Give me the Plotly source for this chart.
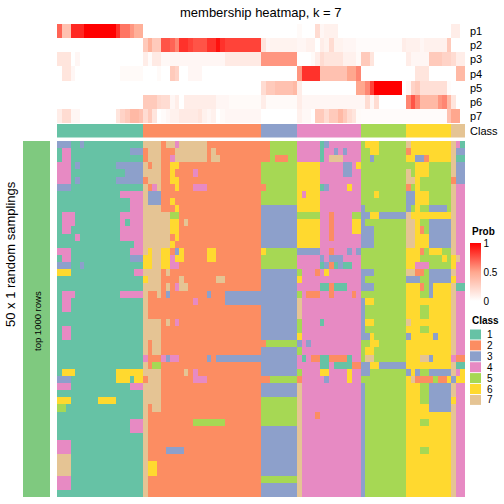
import plotly.graph_objects as go

W = H = 504

# ---------------- data ----------------
class_names = ["1", "2", "3", "4", "5", "6", "7"]
class_colors = ["#66C2A5", "#FC8D62", "#8DA0CB", "#E78AC3", "#A6D854", "#FFD92F", "#E5C494"]
prob_rows = ["p1", "p2", "p3", "p4", "p5", "p6", "p7"]

column_class = ("1111111111" "111111111" "22222222222222222222222222" "33333333"
                "44444444444444" "5555555555" "6666666666" "777")

p1 = [0.7, 0.35, 0.35, 0.88, 0.88, 0.88, 1, 1, 1, 1, 1, 1, 1, 0.85, 0.65, 0.65, 0.55, 0.45, 0.45,
      0, 0, 0, 0, 0, 0, 0, 0, 0, 0, 0, 0, 0, 0, 0, 0, 0, 0, 0, 0, 0, 0, 0, 0, 0, 0,
      0, 0, 0, 0, 0, 0, 0, 0, 0.03, 0, 0, 0, 0.2, 0.05, 0.08, 0.08, 0.08, 0, 0, 0, 0,
      0, 0, 0, 0, 0, 0, 0, 0, 0, 0, 0, 0, 0, 0, 0, 0, 0, 0, 0, 0, 0, 0.1, 0.1]
p2 = [0, 0, 0, 0, 0, 0, 0, 0, 0, 0, 0, 0, 0, 0, 0, 0, 0, 0, 0,
      0.3, 0.45, 0.3, 0.3, 0.75, 0.75, 0.7, 0.6, 0.85, 0.85, 0.8, 0.75, 0.75, 0.75, 0.85, 0.85, 0.95, 0.85,
      0.8, 0.8, 0.8, 0.8, 0.8, 0.8, 0.8, 0.8,
      0.15, 0.05, 0.07, 0.07, 0.07, 0.07, 0.07, 0.07, 0.05, 0.05, 0.08, 0.08, 0, 0.1, 0.07, 0.2, 0.07, 0.07,
      0.05, 0.05, 0.05, 0.02, 0.02, 0.02, 0.02, 0.02, 0.02, 0.02, 0.02, 0.02, 0.02, 0.1, 0.08, 0.08, 0.08,
      0.05, 0.08, 0.08, 0.08, 0.08, 0.08, 0.3, 0, 0]
p3 = [0.15, 0.15, 0.15, 0, 0.05, 0, 0, 0, 0, 0, 0, 0, 0, 0, 0, 0, 0, 0, 0,
      0.1, 0.02, 0.12, 0.12, 0.04, 0.04, 0.05, 0.05, 0.05, 0.05, 0.05, 0.05, 0.05, 0.05, 0.05, 0.05, 0.05, 0.05,
      0.12, 0.12, 0.12, 0.12, 0.12, 0.12, 0.12, 0.12,
      0.55, 0.55, 0.55, 0.55, 0.55, 0.55, 0.55, 0.55, 0, 0, 0, 0.03, 0.1, 0.2, 0.15, 0.15, 0.15, 0.15,
      0.08, 0.08, 0.08, 0.03, 0.3, 0.3, 0.15, 0, 0, 0, 0, 0, 0, 0, 0.1, 0.05, 0.05, 0.05,
      0.05, 0.3, 0.3, 0.3, 0.25, 0.25, 0.2, 0.1, 0.1]
p4 = [0, 0.15, 0.15, 0.05, 0, 0, 0, 0, 0, 0, 0, 0, 0, 0, 0.03, 0.03, 0.03, 0.03, 0.03,
      0, 0, 0, 0.03, 0, 0, 0.3, 0.25, 0, 0, 0.05, 0.05, 0.05, 0, 0, 0, 0, 0,
      0, 0, 0, 0, 0, 0, 0, 0,
      0, 0, 0, 0, 0, 0, 0, 0, 0.55, 0.85, 0.85, 0.85, 0.85, 0.35, 0.35, 0.35, 0.35, 0.35,
      0.35, 0.5, 0.5, 0.6, 0, 0, 0, 0, 0, 0, 0, 0, 0, 0, 0, 0, 0.15, 0.15,
      0.15, 0, 0, 0, 0, 0, 0, 0.4, 0.4]
p5 = [0, 0, 0, 0, 0, 0, 0, 0, 0, 0, 0, 0, 0, 0, 0, 0, 0, 0, 0,
      0, 0, 0, 0, 0, 0, 0, 0, 0, 0, 0, 0, 0, 0, 0, 0, 0, 0,
      0, 0, 0, 0, 0, 0, 0, 0,
      0.2, 0.3, 0.3, 0.35, 0.35, 0.35, 0.35, 0.4, 0.1, 0, 0, 0, 0, 0, 0, 0, 0,
      0, 0, 0, 0, 0.5, 0.5, 0.6, 0.8, 1, 1, 1, 1, 1, 1, 0, 0.05, 0.25,
      0.3, 0.18, 0.18, 0.18, 0.18, 0.18, 0.18, 0.02, 0, 0]
p6 = [0, 0, 0, 0, 0, 0, 0, 0, 0, 0, 0, 0, 0, 0, 0, 0, 0, 0, 0,
      0.3, 0.3, 0.3, 0.22, 0.2, 0.2, 0.05, 0.1, 0, 0.1, 0.1, 0.1, 0.1, 0.1, 0.1, 0.1, 0.05, 0.05,
      0.05, 0.03, 0.03, 0.03, 0.03, 0.03, 0.03, 0.03,
      0.1, 0.03, 0.03, 0.03, 0.03, 0.03, 0.03, 0.03, 0.1, 0.05, 0.05, 0.05, 0.05, 0.05, 0.05, 0.05, 0.05, 0.05,
      0.05, 0.05, 0.05, 0.05, 0.05, 0.2, 0.05, 0.2, 0, 0, 0, 0, 0, 0, 0.6, 0.75, 0.6,
      0.4, 0.4, 0.4, 0.4, 0.55, 0.6, 0.4, 0.15, 0, 0]
p7 = [0.1, 0.2, 0.2, 0.05, 0.05, 0, 0, 0, 0, 0, 0, 0, 0, 0.15, 0.25, 0.3, 0.4, 0.4, 0.35,
      0.2, 0.3, 0.15, 0, 0.02, 0.05, 0.08, 0.08, 0.12, 0.12, 0.12, 0.12, 0.15, 0.08, 0.05, 0.08, 0, 0.03,
      0.05, 0.05, 0.05, 0.05, 0.05, 0.05, 0.05, 0.05,
      0, 0, 0, 0, 0, 0, 0, 0, 0.08, 0.04, 0.04, 0, 0.3, 0.3, 0.2, 0.3, 0.3, 0.4,
      0.3, 0.2, 0.15, 0.03, 0.02, 0.02, 0.02, 0.02, 0.02, 0.02, 0.02, 0.02, 0.02, 0.02, 0.02, 0.02, 0.02,
      0.02, 0.02, 0.02, 0.02, 0.02, 0.02, 0.35, 0.5, 0.5]
prob_matrix = [p1, p2, p3, p4, p5, p6, p7]

# 50 random samplings x 90 columns: class assigned in each sampling
sampling_rows = [
    "3331131111" "1111111117" "7772774777" "7772222222" "2222222555" "5554444413" "4444444566" "6555555766" "6666666741",
    "1441111111" "1111113332" "7772227777" "7772722222" "2222222555" "5554444414" "4343444556" "6555555266" "6666666733",
    "1441111111" "1111111112" "7772247777" "7772772222" "2222222522" "2554444414" "7774444553" "5555555663" "3266666711",
    "4441311111" "1113333337" "2772266222" "2222222222" "2222255555" "5556666644" "4443346555" "5555555556" "6655555733",
    "4441111111" "1111133337" "7772262222" "4222222222" "2222255555" "5556666644" "4443344555" "5555555756" "6655555733",
    "4441311111" "1113333332" "7772266222" "2222222222" "2222255555" "5556666644" "4444444555" "5555555776" "5555555233",
    "3331111111" "1111111117" "2472226222" "4442222222" "2222225555" "5556666613" "4444644555" "5555555256" "5555555744",
    "1111111111" "1111444447" "3332222222" "2222222222" "2222255555" "5556466644" "4444444555" "6555555336" "6655555744",
    "1111111111" "1111114447" "3332262222" "2222222222" "2222255555" "5556666644" "4444444555" "5555555336" "6655555744",
    "1111111111" "1111114447" "7772226222" "2222222222" "2222233333" "3336666644" "4444444355" "5555555356" "5533335744",
    "1444111111" "1111444447" "7777755222" "2222222222" "2222233333" "3335555544" "2444455336" "6333333766" "6666666744",
    "1444111111" "1111414447" "7777766272" "2222222222" "2222233333" "3336666644" "2444466355" "5555555776" "5533333744",
    "1441111111" "1111444447" "7777766222" "2222222222" "2222233333" "3336666644" "2444466333" "5555555776" "2533333744",
    "1111411111" "1111444447" "7777726222" "2222222222" "2222233333" "3336666644" "2444444333" "5555555776" "6633333744",
    "1111111111" "1111111447" "7777762222" "2222222222" "2222233333" "3336666644" "4444444333" "5555555776" "6633333744",
    "4441111111" "1111114447" "6776623622" "2226622222" "2222265555" "5553333344" "2444343555" "5555555666" "2566655744",
    "1441111111" "1111113336" "6776646622" "2226622222" "2222255555" "5554444434" "3334444555" "5555555666" "5555565674",
    "3331131111" "1111111116" "6776644222" "2222222222" "2222255555" "5554444413" "2131144555" "5555555664" "4455555644",
    "6661111111" "1111111447" "7772722222" "2222222222" "2222233333" "3335444246" "4444444333" "5555555772" "2533333744",
    "1111111111" "1111111116" "7772222722" "2222277222" "2222233333" "3336444444" "4444444355" "5555555333" "5533333644",
    "1111111111" "1111111117" "7772724772" "2222222222" "2222233333" "3334444411" "2111444333" "5555555666" "2536666711",
    "1444111111" "1111444447" "2272322222" "2223222333" "3333333333" "3335422244" "2444424555" "5555555666" "5536666744",
    "1441111111" "1111111117" "2222222222" "4222222333" "3333333333" "3337444444" "4444444366" "5555555666" "6666666744",
    "1441111111" "1111111117" "2222222222" "2222222222" "2222233333" "3337444444" "4444444355" "5555555666" "5566666744",
    "1111111111" "1111111117" "2222222222" "2222222222" "2222233333" "3337444444" "4444444355" "5555555666" "5566666744",
    "1111111111" "1111111117" "7772724222" "2222222222" "2222233333" "3335444414" "4444444366" "5555555766" "6666666744",
    "1441111111" "1111111117" "7772222222" "2222222222" "2222233333" "3335444444" "4444444355" "5555555666" "5566666744",
    "1441111111" "1111111117" "7772222222" "2222222222" "2222233333" "3336444444" "4444444336" "5555555366" "6663666744",
    "1111111111" "1111111117" "2772222222" "2222222222" "2222225555" "5553434444" "4444444556" "6555555666" "6666666744",
    "1111111111" "1111111117" "2772222222" "2222222222" "2222233333" "3335444444" "4444444566" "5555555666" "6666666744",
    "1111111111" "1111111114" "2224344222" "2223233333" "3333333333" "3334142211" "2222144577" "5555555666" "7736666422",
    "1111111111" "1111111117" "2552222222" "2222222222" "2222233333" "3334444411" "4111122336" "6333333666" "6666666711",
    "1666111111" "1116666667" "7772222272" "4222222222" "2222233333" "3335444466" "4444644335" "5555555363" "5533333746",
    "3331111111" "1116661662" "7772222222" "4442222222" "2222222555" "5552444443" "4444644555" "5555555672" "2225226366",
    "4441111111" "1111114447" "7772222222" "2222222222" "2222233333" "3337444444" "4444444355" "5555555666" "5533333744",
    "1111111111" "1111111117" "7772222222" "2222222222" "2222233333" "3337444444" "4444444355" "5555555666" "5533333744",
    "6661111116" "6661111117" "7772222222" "2222222222" "2222255555" "5557444444" "4444444355" "5555555666" "5533333644",
    "5511111111" "1111111117" "2772222222" "2222222222" "2222255555" "5557444444" "4444444355" "5555555666" "6633333744",
    "1111111111" "1111111117" "2222222222" "2222222222" "2222255555" "5557444244" "4444444355" "5555555666" "6666666744",
    "1111111111" "1111114447" "2222222222" "5555555222" "2222255555" "5557444444" "4444444355" "5555555666" "5566666744",
    "1111111111" "1111114447" "2222222222" "2222222222" "2222233333" "3337444444" "4444444355" "5555555666" "6666666744",
    "1111111111" "1111111117" "2222222222" "2222222222" "2222233333" "3337444444" "4444444355" "5555555666" "6666666744",
    "4441111111" "1111111117" "2222222222" "2222222222" "2222233333" "3337444444" "4444444355" "5555555666" "6666666744",
    "4441111111" "1111111117" "2222333322" "2222222222" "2222233333" "3337444444" "4444444355" "5555555666" "5566666744",
    "7771111111" "1111111117" "2222222222" "2222222222" "2222233333" "3337444444" "4444444355" "5555555666" "6666666744",
    "7771111111" "1111111117" "6622222222" "2222222222" "2222233333" "3337444444" "4444444355" "5555555666" "6666666744",
    "7771111111" "1111111117" "6622222222" "2222222222" "2222233333" "3337444444" "4444444355" "5555555666" "6666666744",
    "4441111111" "1111111117" "2222222222" "2222222222" "2222255555" "5557444444" "4444444355" "5555555666" "6666666744",
    "4441111111" "1111111117" "2222222222" "2222222222" "2222233333" "3337444444" "4444444355" "5555555666" "6666666744",
    "1111111111" "1111111117" "2222222222" "2222222222" "2222233333" "3337444444" "4444444355" "5555555666" "6666666744",
]

# ---------------- helpers ----------------
def px(x):
    return x / W

def py(y):
    return 1 - y / H

ncol = len(column_class)
nrow = len(sampling_rows)
main_z = [[int(c) for c in r] for r in sampling_rows]
class_z = [[int(c) for c in column_class]]

k = len(class_colors)
disc_scale = []
for i, c in enumerate(class_colors):
    disc_scale.append([i / k, c])
    disc_scale.append([(i + 1) / k, c])

prob_scale = [[0, "#FFFFFF"], [0.5, "#FFA78E"], [1, "#FF0000"]]

FONT = "Liberation Sans, Arial, Helvetica, sans-serif"

fig = go.Figure()

fig.add_trace(go.Heatmap(z=main_z, x=list(range(ncol)), y=list(range(nrow)),
                         colorscale=disc_scale, zmin=0.5, zmax=7.5, showscale=False,
                         xaxis="x", yaxis="y", hoverinfo="skip"))
fig.add_trace(go.Heatmap(z=prob_matrix, x=list(range(ncol)), y=list(range(len(prob_rows))),
                         colorscale=prob_scale, zmin=0, zmax=1, showscale=True,
                         colorbar=dict(x=px(470), xanchor="left", xpad=0, ypad=0,
                                       y=py(272.5), yanchor="middle", len=58 / H, lenmode="fraction",
                                       thickness=11, thicknessmode="pixels", outlinewidth=0,
                                       tickvals=[0, 0.5, 1], ticktext=["0", "0.5", "1"],
                                       ticks="", tickfont=dict(size=10, family=FONT, color="#000")),
                         xaxis="x", yaxis="y2", hoverinfo="skip"))
fig.add_trace(go.Heatmap(z=class_z, x=list(range(ncol)), y=[0],
                         colorscale=disc_scale, zmin=0.5, zmax=7.5, showscale=False,
                         xaxis="x", yaxis="y3", hoverinfo="skip"))
fig.add_trace(go.Heatmap(z=[[1]], x=[0], y=[0], colorscale=[[0, "#7FC97F"], [1, "#7FC97F"]],
                         showscale=False, xaxis="x2", yaxis="y4", hoverinfo="skip"))

ax = dict(visible=False, showgrid=False, zeroline=False, fixedrange=True)
fig.update_layout(
    width=W, height=H, margin=dict(l=0, r=0, t=0, b=0),
    paper_bgcolor="white", plot_bgcolor="white", showlegend=False,
    xaxis=dict(domain=[px(57), px(465)], range=[-0.5, ncol - 0.5], anchor="y", **ax),
    yaxis=dict(domain=[py(497), py(141)], range=[nrow - 0.5, -0.5], anchor="x", **ax),
    yaxis2=dict(domain=[py(123), py(24)], range=[len(prob_rows) - 0.5, -0.5], anchor="x", **ax),
    yaxis3=dict(domain=[py(137.5), py(124)], range=[0.5, -0.5], anchor="x", **ax),
    xaxis2=dict(domain=[px(23), px(50)], range=[-0.5, 0.5], anchor="y4", **ax),
    yaxis4=dict(domain=[py(497), py(141)], range=[0.5, -0.5], anchor="x2", **ax),
)

ann = []
ann.append(dict(text="membership heatmap, k = 7", x=px(261), y=py(12), xref="paper", yref="paper",
                showarrow=False, font=dict(size=13, family=FONT, color="#000"), xanchor="center", yanchor="middle"))
row_h = (123 - 24) / 7
for i, name in enumerate(prob_rows):
    ann.append(dict(text=name, x=px(468), y=py(24 + row_h * (i + 0.5)), xref="paper", yref="paper",
                    showarrow=False, font=dict(size=11, family=FONT, color="#000"), xanchor="left", yanchor="middle"))
ann.append(dict(text="Class", x=px(468), y=py(131), xref="paper", yref="paper",
                showarrow=False, font=dict(size=11, family=FONT, color="#000"), xanchor="left", yanchor="middle"))
ann.append(dict(text="50 x 1 random samplings", x=px(10), y=py(254), xref="paper", yref="paper", textangle=-90,
                showarrow=False, font=dict(size=13, family=FONT, color="#000"), xanchor="center", yanchor="middle"))
ann.append(dict(text="top 1000 rows", x=px(37), y=py(321), xref="paper", yref="paper", textangle=-90,
                showarrow=False, font=dict(size=9.5, family=FONT, color="#000"), xanchor="center", yanchor="middle"))
ann.append(dict(text="<b>Prob</b>", x=px(470), y=py(231.5), xref="paper", yref="paper",
                showarrow=False, font=dict(size=10, family=FONT, color="#000"), xanchor="left", yanchor="middle"))
ann.append(dict(text="<b>Class</b>", x=px(470), y=py(320), xref="paper", yref="paper",
                showarrow=False, font=dict(size=10, family=FONT, color="#000"), xanchor="left", yanchor="middle"))

shapes = []
# white tick marks drawn across the colour bar at the 0.5 level
for xa, xb in [(470, 473), (478, 481)]:
    shapes.append(dict(type="line", xref="paper", yref="paper", x0=px(xa), x1=px(xb),
                       y0=py(272.5), y1=py(272.5), line=dict(color="white", width=1)))
for i, (name, col) in enumerate(zip(class_names, class_colors)):
    y0 = 329.5 + 10.9 * i
    shapes.append(dict(type="rect", xref="paper", yref="paper", x0=px(470), x1=px(481),
                       y0=py(y0), y1=py(y0 + 10), fillcolor=col, line=dict(width=0)))
    ann.append(dict(text=name, x=px(485), y=py(y0 + 5), xref="paper", yref="paper",
                    showarrow=False, font=dict(size=10, family=FONT, color="#000"), xanchor="left", yanchor="middle"))

fig.update_layout(annotations=ann, shapes=shapes)
fig.write_html("out.html", config={"displayModeBar": False},
               post_script="document.body.style.margin='0';document.body.style.overflow='hidden';")
